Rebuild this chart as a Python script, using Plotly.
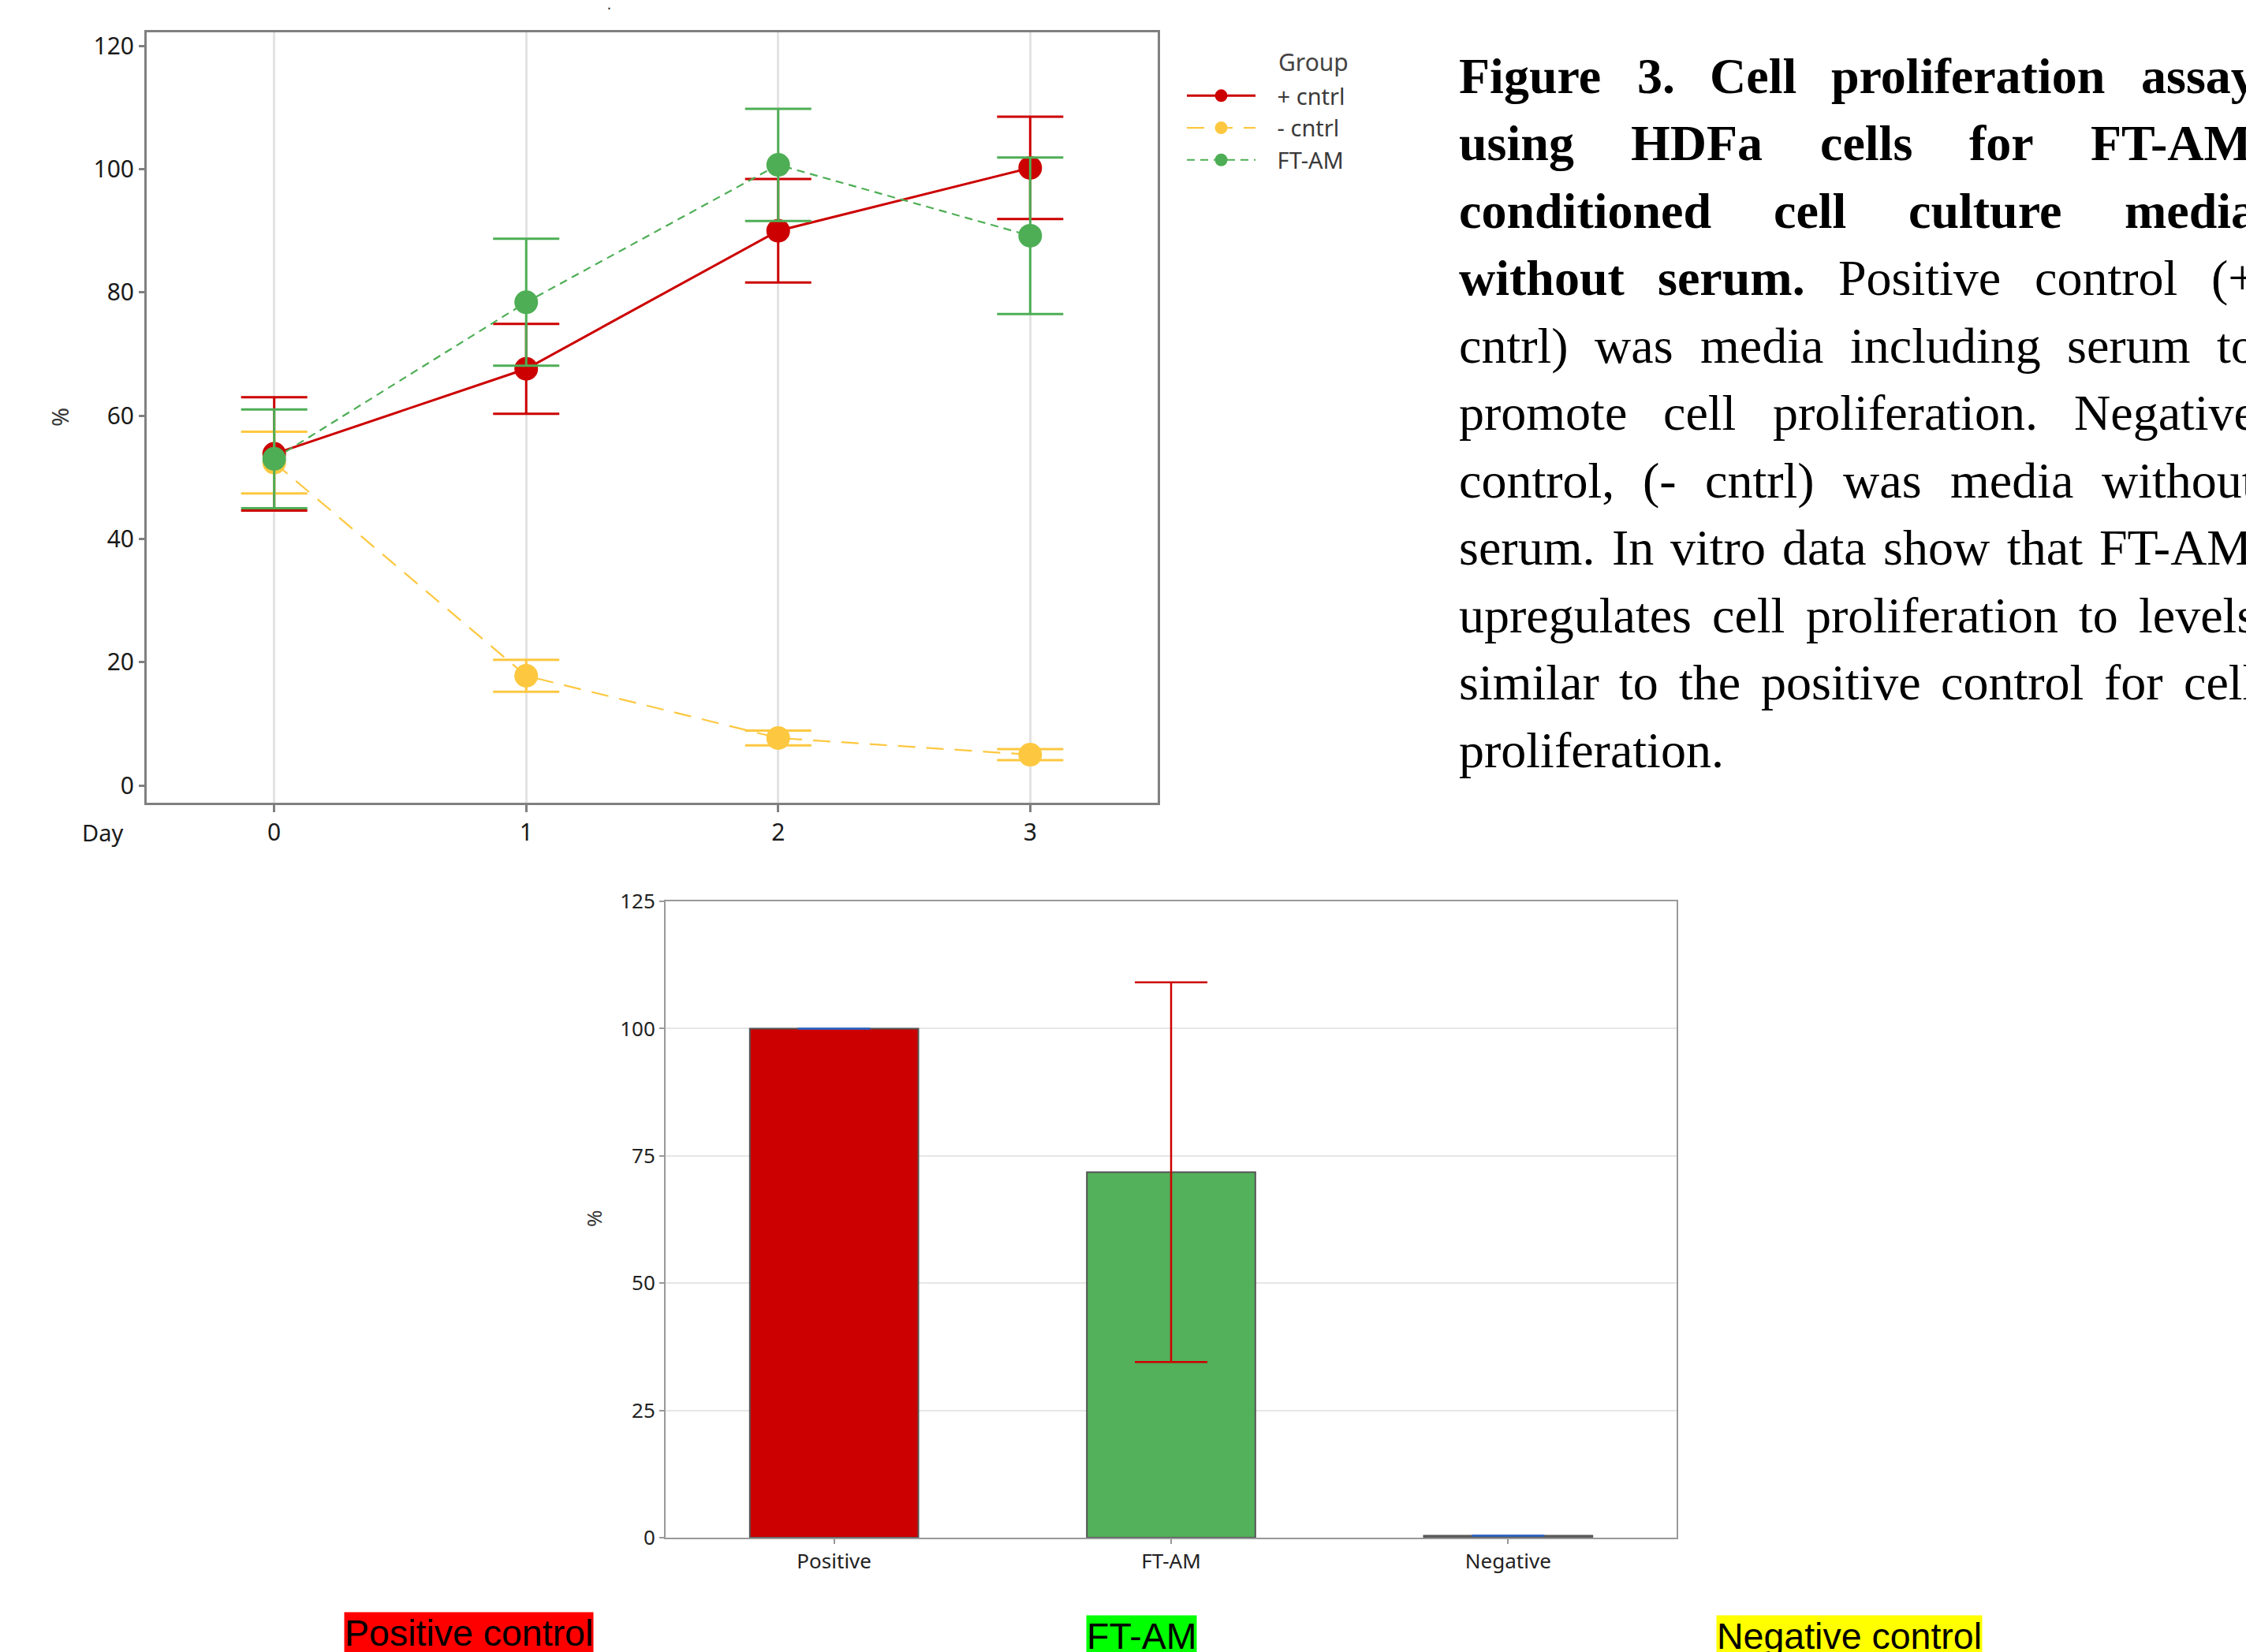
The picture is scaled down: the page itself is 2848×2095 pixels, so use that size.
import plotly.graph_objects as go

W, H = 2848, 2095

# ---------------- Data: line chart (cell proliferation over days) ----------------
days = [0, 1, 2, 3]
day_labels = ["0", "1", "2", "3"]
pos_cntrl = [53.8, 67.6, 90.0, 100.2]
pos_cntrl_err = [9.2, 7.3, 8.4, 8.3]
neg_cntrl = [52.4, 17.8, 7.7, 5.0]
neg_cntrl_err = [5.0, 2.6, 1.2, 0.9]
ftam = [53.0, 78.4, 100.7, 89.2]
ftam_err = [8.0, 10.3, 9.1, 12.7]
y_ticks_top = [0, 20, 40, 60, 80, 100, 120]

# ---------------- Data: bar chart ----------------
bar_cats = ["Positive", "FT-AM", "Negative"]
bar_vals = [100.0, 71.8, 0.4]
bar_errs = [0.0, 37.3, 0.0]
y_ticks_bottom = [0, 25, 50, 75, 100, 125]

# ---------------- Caption text (lines as laid out in the figure) ----------------
caption_lines = [
    [("Figure", 1), ("3.", 1), ("Cell", 1), ("proliferation", 1), ("assay", 1)],
    [("using", 1), ("HDFa", 1), ("cells", 1), ("for", 1), ("FT-AM", 1)],
    [("conditioned", 1), ("cell", 1), ("culture", 1), ("media", 1)],
    [("without", 1), ("serum.", 1), ("Positive", 0), ("control", 0), ("(+", 0)],
    [("cntrl)", 0), ("was", 0), ("media", 0), ("including", 0), ("serum", 0), ("to", 0)],
    [("promote", 0), ("cell", 0), ("proliferation.", 0), ("Negative", 0)],
    [("control,", 0), ("(-", 0), ("cntrl)", 0), ("was", 0), ("media", 0), ("without", 0)],
    [("serum.", 0), ("In", 0), ("vitro", 0), ("data", 0), ("show", 0), ("that", 0), ("FT-AM", 0)],
    [("upregulates", 0), ("cell", 0), ("proliferation", 0), ("to", 0), ("levels", 0)],
    [("similar", 0), ("to", 0), ("the", 0), ("positive", 0), ("control", 0), ("for", 0), ("cell", 0)],
    [("proliferation.", 0)],
]
bottom_labels = ["Positive control", "FT-AM", "Negative control"]

# ---------------- helpers ----------------
def px(x):
    return x / W


def py(y):
    return 1 - y / H


RED = "#CC0000"
YEL = "#FDC840"
GRN = "#4EAE55"
BAR_GRN = "#53B05B"
BLUE = "#2A62C8"
TICKFONT = "Noto Sans"
NB = "\u00a0"

fig = go.Figure()

series = [
    ("+ cntrl", pos_cntrl, pos_cntrl_err, RED, "solid", 3),
    ("- cntrl", neg_cntrl, neg_cntrl_err, YEL, "22px,14px", 2.2),
    ("FT-AM", ftam, ftam_err, GRN, "10px,7px", 2.2),
]
for name, ys, es, col, dash, lw in series:
    fig.add_trace(go.Scatter(
        x=days, y=ys, name=NB * 3 + name, mode="lines+markers",
        line=dict(color=col, width=lw, dash=dash),
        marker=dict(color=col, size=30, symbol="circle"),
        error_y=dict(type="data", array=es, visible=True, color=col,
                     thickness=3, width=42),
        xaxis="x", yaxis="y", legendgroup=name,
    ))

bar_fill = [RED, BAR_GRN, "#6f6f6f"]
err_cols = [BLUE, RED, BLUE]
for cat, v, e, c, ec in zip(bar_cats, bar_vals, bar_errs, bar_fill, err_cols):
    fig.add_trace(go.Bar(
        x=[cat], y=[v], width=0.5, showlegend=False,
        marker=dict(color=c, line=dict(color="#555555", width=2)),
        error_y=dict(type="data", array=[e], visible=True, color=ec,
                     thickness=2.5, width=46),
        xaxis="x2", yaxis="y2",
    ))

# ---------------- caption layout (justified lines) ----------------
TR = {" ": 250, "(": 333, ")": 333, "+": 564, ",": 250, "-": 333, ".": 250, "3": 500,
      "A": 722, "C": 667, "D": 722, "F": 556, "H": 722, "I": 333, "M": 889, "N": 722,
      "P": 556, "T": 611, "a": 444, "b": 500, "c": 444, "d": 500, "e": 444, "f": 333,
      "g": 500, "h": 500, "i": 278, "l": 278, "m": 778, "n": 500, "o": 500, "p": 500,
      "r": 333, "s": 389, "t": 278, "u": 500, "v": 500, "w": 722, "y": 500}
TB = {" ": 250, "(": 333, ")": 333, "+": 570, ",": 250, "-": 333, ".": 250, "3": 500,
      "A": 722, "C": 722, "D": 722, "F": 611, "H": 778, "I": 389, "M": 944, "N": 722,
      "P": 611, "T": 667, "a": 500, "b": 556, "c": 444, "d": 556, "e": 444, "f": 333,
      "g": 500, "h": 556, "i": 278, "l": 278, "m": 833, "n": 556, "o": 500, "p": 556,
      "r": 444, "s": 389, "t": 333, "u": 556, "v": 500, "w": 722, "y": 500}
FS = 64
CAP_L, CAP_R = 1849.0, 2860.0
CAP_Y0, CAP_DY = 96.0, 85.55


def wlen(word, bold):
    tab = TB if bold else TR
    return sum(tab.get(ch, 500) for ch in word) / 1000.0 * FS


annotations = []
for i, line in enumerate(caption_lines):
    widths = [wlen(w, b) for w, b in line]
    last = i == len(caption_lines) - 1
    if len(line) > 1 and not last:
        gap = (CAP_R - CAP_L - sum(widths)) / (len(line) - 1)
    else:
        gap = 0.25 * FS
    x = CAP_L
    for (word, bold), wd in zip(line, widths):
        annotations.append(dict(
            x=px(x), y=py(CAP_Y0 + i * CAP_DY), xref="paper", yref="paper",
            xanchor="left", yanchor="middle", showarrow=False, borderpad=0,
            text=("<b>%s</b>" % word) if bold else word,
            font=dict(family="Liberation Serif", size=FS, color="#000000"),
        ))
        x += wd + gap

# axis titles / misc text
annotations += [
    dict(x=px(130), y=py(1055), xref="paper", yref="paper", text="Day", showarrow=False,
         font=dict(family=TICKFONT, size=29, color="#1a1a1a"), xanchor="center", yanchor="middle"),
    dict(x=px(76), y=py(529), xref="paper", yref="paper", text="%", showarrow=False, textangle=-90,
         font=dict(family=TICKFONT, size=29, color="#333333"), xanchor="center", yanchor="middle"),
    dict(x=px(753), y=py(1545), xref="paper", yref="paper", text="%", showarrow=False, textangle=-90,
         font=dict(family=TICKFONT, size=26, color="#333333"), xanchor="center", yanchor="middle"),
    dict(x=px(1619), y=py(78), xref="paper", yref="paper", text="Group", showarrow=False,
         font=dict(family=TICKFONT, size=30, color="#444444"), xanchor="left", yanchor="middle"),
    dict(x=px(772), y=py(10), xref="paper", yref="paper", text="·", showarrow=False,
         font=dict(family=TICKFONT, size=18, color="#333333"), xanchor="center", yanchor="middle"),
]

label_pos = [(436, 2044, "#FF0000"), (1377, 2048, "#00FF00"), (2176, 2048, "#FFFF00")]
for txt, (lx, ly, bg) in zip(bottom_labels, label_pos):
    annotations.append(dict(
        x=px(lx), y=py(ly), xref="paper", yref="paper", text=txt, showarrow=False,
        xanchor="left", yanchor="top", bgcolor=bg, borderpad=0,
        font=dict(family="Liberation Sans", size=46.5, color="#000000"),
    ))

fig.update_layout(
    width=W, height=H, autosize=False, template="none",
    margin=dict(l=0, r=0, t=0, b=0, pad=0),
    paper_bgcolor="white", plot_bgcolor="white",
    barmode="overlay",
    showlegend=True,
    legend=dict(x=px(1500), y=py(96), xanchor="left", yanchor="top",
                font=dict(family=TICKFONT, size=29, color="#3a3a3a"),
                bgcolor="rgba(0,0,0,0)", borderwidth=0, itemwidth=87,
                tracegroupgap=0),
    xaxis=dict(domain=[px(186), px(1468)], range=[-0.506, 3.506], anchor="y",
               tickvals=days, ticktext=day_labels, showgrid=True, gridcolor="#E3E3E3",
               gridwidth=3, zeroline=False, showline=True, linecolor="#808080", linewidth=3,
               mirror=True, ticks="outside", ticklen=9, tickwidth=3, tickcolor="#808080",
               tickfont=dict(family=TICKFONT, size=30, color="#1a1a1a")),
    yaxis=dict(domain=[py(1018), py(41)], range=[-2.8, 122.2], anchor="x",
               tickvals=y_ticks_top, showgrid=False, zeroline=False, showline=True,
               linecolor="#808080", linewidth=3, mirror=True, ticks="outside", ticklen=7,
               tickwidth=3, tickcolor="#808080",
               tickfont=dict(family=TICKFONT, size=30, color="#1a1a1a")),
    xaxis2=dict(domain=[px(844), px(2126)], range=[-0.5, 2.5], anchor="y2", type="category",
                categoryorder="array", categoryarray=bar_cats, showgrid=False, zeroline=False,
                showline=True, linecolor="#999999", linewidth=2, mirror=True, ticks="outside",
                ticklen=6, tickwidth=2, tickcolor="#999999",
                tickfont=dict(family=TICKFONT, size=26, color="#222222")),
    yaxis2=dict(domain=[py(1950), py(1143)], range=[0, 125], anchor="x2", tickvals=y_ticks_bottom,
                showgrid=True, gridcolor="#E6E6E6", gridwidth=2, zeroline=False, showline=True,
                linecolor="#999999", linewidth=2, mirror=True, ticks="outside", ticklen=6,
                tickwidth=2, tickcolor="#999999",
                tickfont=dict(family=TICKFONT, size=26, color="#222222")),
    annotations=annotations,
)

fig.write_html("out.html")
